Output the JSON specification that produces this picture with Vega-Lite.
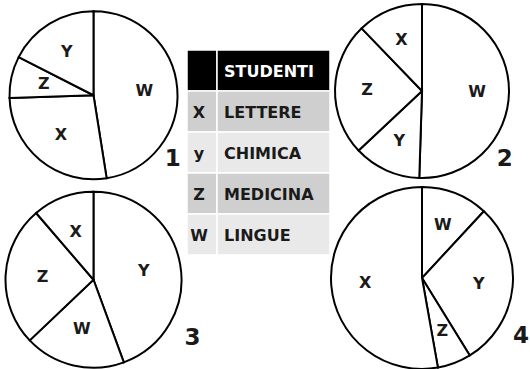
{
  "$schema": "https://vega.github.io/schema/vega-lite/v6.json",
  "padding": 0,
  "spacing": 0,
  "bounds": "flush",
  "background": "white",
  "config": {"view": {"stroke": null}, "concat": {"spacing": 0}},
  "datasets": {
    "pies": [
      {"pie": "1", "label": "W", "value": 47.5},
      {"pie": "1", "label": "X", "value": 27},
      {"pie": "1", "label": "Z", "value": 8},
      {"pie": "1", "label": "Y", "value": 17.5},
      {"pie": "2", "label": "W", "value": 50.5},
      {"pie": "2", "label": "Y", "value": 12.5},
      {"pie": "2", "label": "Z", "value": 24.8},
      {"pie": "2", "label": "X", "value": 12.2},
      {"pie": "3", "label": "Y", "value": 44.4},
      {"pie": "3", "label": "W", "value": 18.5},
      {"pie": "3", "label": "Z", "value": 25.8},
      {"pie": "3", "label": "X", "value": 11.3},
      {"pie": "4", "label": "W", "value": 11.9},
      {"pie": "4", "label": "Y", "value": 29.3},
      {"pie": "4", "label": "Z", "value": 6},
      {"pie": "4", "label": "X", "value": 52.8}
    ],
    "table": [
      {"row": "head", "name": "STUDENTI"},
      {"row": "X", "name": "LETTERE"},
      {"row": "y", "name": "CHIMICA"},
      {"row": "Z", "name": "MEDICINA"},
      {"row": "W", "name": "LINGUE"}
    ]
  },
  "hconcat": [
    {
      "width": 187, "height": 373,
      "data": {"name": "pies"},
      "transform": [
        {"filter": "datum.pie == '1' || datum.pie == '3'"},
        {"stack": "value", "groupby": ["pie"], "as": ["s0", "s1"]}
      ],
      "encoding": {
        "y": {"field": "pie", "type": "ordinal", "axis": null, "scale": {"type": "point", "domain": ["1", "3"], "padding": 0.5108}}
      },
      "layer": [
        {"transform": [{"filter": "datum.pie == '1'"}],
         "mark": {"type": "arc", "outerRadius": 84, "fill": "white", "stroke": "black", "strokeWidth": 2},
         "encoding": {"theta": {"field": "s0", "type": "quantitative", "scale": {"domain": [0, 100]}}, "theta2": {"field": "s1"}}},
        {"transform": [{"filter": "datum.pie == '3'"}],
         "mark": {"type": "arc", "outerRadius": 88, "fill": "white", "stroke": "black", "strokeWidth": 2},
         "encoding": {"theta": {"field": "s0", "type": "quantitative", "scale": {"domain": [0, 100]}}, "theta2": {"field": "s1"}}},
        {"transform": [{"filter": "datum.pie == '1'"}],
         "mark": {"type": "text", "radius": 51, "font": "DejaVu Sans", "fontWeight": "bold", "fontSize": 16, "fill": "#1a1a1a", "baseline": "middle"},
         "encoding": {"theta": {"field": "value", "type": "quantitative", "stack": true}, "order": {"field": "s0", "type": "quantitative"}, "text": {"field": "label"}}},
        {"transform": [{"filter": "datum.pie == '3'"}],
         "mark": {"type": "text", "radius": 51, "font": "DejaVu Sans", "fontWeight": "bold", "fontSize": 16, "fill": "#1a1a1a", "baseline": "middle"},
         "encoding": {"theta": {"field": "value", "type": "quantitative", "stack": true}, "order": {"field": "s0", "type": "quantitative"}, "text": {"field": "label"}}},
        {"transform": [{"filter": "datum.pie == '1' && datum.label == 'W'"}],
         "mark": {"type": "text", "radius": 102, "theta": 2.25, "font": "DejaVu Sans", "fontWeight": "bold", "fontSize": 23, "fill": "#1a1a1a", "baseline": "middle"},
         "encoding": {"text": {"field": "pie"}}},
        {"transform": [{"filter": "datum.pie == '3' && datum.label == 'W'"}],
         "mark": {"type": "text", "radius": 115, "theta": 2.105, "font": "DejaVu Sans", "fontWeight": "bold", "fontSize": 23, "fill": "#1a1a1a", "baseline": "middle"},
         "encoding": {"text": {"field": "pie"}}}
      ]
    },
    {
      "width": 30, "height": 369,
      "data": {"name": "table"},
      "encoding": {
        "y": {"field": "row", "type": "nominal", "axis": null,
              "scale": {"domain": ["head", "X", "y", "Z", "W"], "paddingInner": 0, "paddingOuter": 0, "range": [49, 254]}}
      },
      "layer": [
        {"mark": {"type": "rect", "stroke": "white", "strokeWidth": 1.5},
         "encoding": {"color": {"field": "row", "type": "nominal", "legend": null,
                                "scale": {"domain": ["head", "X", "y", "Z", "W"], "range": ["#000000", "#cfcfcf", "#e9e9e9", "#cfcfcf", "#e9e9e9"]}}}},
        {"transform": [{"filter": "datum.row != 'head'"}],
         "mark": {"type": "text", "font": "DejaVu Sans", "fontWeight": "bold", "fontSize": 16, "fill": "#1a1a1a", "baseline": "middle", "dx": -3, "dy": 1},
         "encoding": {"text": {"field": "row"}}}
      ]
    },
    {
      "width": 113, "height": 369,
      "data": {"name": "table"},
      "encoding": {
        "y": {"field": "row", "type": "nominal", "axis": null,
              "scale": {"domain": ["head", "X", "y", "Z", "W"], "paddingInner": 0, "paddingOuter": 0, "range": [49, 254]}}
      },
      "layer": [
        {"mark": {"type": "rect", "stroke": "white", "strokeWidth": 1.5},
         "encoding": {"color": {"field": "row", "type": "nominal", "legend": null,
                                "scale": {"domain": ["head", "X", "y", "Z", "W"], "range": ["#000000", "#cfcfcf", "#e9e9e9", "#cfcfcf", "#e9e9e9"]}}}},
        {"mark": {"type": "text", "font": "DejaVu Sans", "fontWeight": "bold", "fontSize": 16, "baseline": "middle", "align": "left", "dx": -49.5, "dy": 1},
         "encoding": {"text": {"field": "name"},
                      "color": {"condition": {"test": "datum.row == 'head'", "value": "white"}, "value": "#1a1a1a"}}}
      ]
    },
    {
      "width": 184, "height": 367,
      "data": {"name": "pies"},
      "transform": [
        {"filter": "datum.pie == '2' || datum.pie == '4'"},
        {"stack": "value", "groupby": ["pie"], "as": ["s0", "s1"]}
      ],
      "encoding": {
        "y": {"field": "pie", "type": "ordinal", "axis": null, "scale": {"type": "point", "domain": ["2", "4"], "padding": 0.4813}}
      },
      "layer": [
        {"transform": [{"filter": "datum.pie == '2'"}],
         "mark": {"type": "arc", "outerRadius": 87, "fill": "white", "stroke": "black", "strokeWidth": 2},
         "encoding": {"theta": {"field": "s0", "type": "quantitative", "scale": {"domain": [0, 100]}}, "theta2": {"field": "s1"}}},
        {"transform": [{"filter": "datum.pie == '4'"}],
         "mark": {"type": "arc", "outerRadius": 91, "fill": "white", "stroke": "black", "strokeWidth": 2},
         "encoding": {"theta": {"field": "s0", "type": "quantitative", "scale": {"domain": [0, 100]}}, "theta2": {"field": "s1"}}},
        {"transform": [{"filter": "datum.pie == '2'"}],
         "mark": {"type": "text", "radius": 55, "font": "DejaVu Sans", "fontWeight": "bold", "fontSize": 16, "fill": "#1a1a1a", "baseline": "middle"},
         "encoding": {"theta": {"field": "value", "type": "quantitative", "stack": true}, "order": {"field": "s0", "type": "quantitative"}, "text": {"field": "label"}}},
        {"transform": [{"filter": "datum.pie == '4'"}],
         "mark": {"type": "text", "radius": 57, "font": "DejaVu Sans", "fontWeight": "bold", "fontSize": 16, "fill": "#1a1a1a", "baseline": "middle"},
         "encoding": {"theta": {"field": "value", "type": "quantitative", "stack": true}, "order": {"field": "s0", "type": "quantitative"}, "text": {"field": "label"}}},
        {"transform": [{"filter": "datum.pie == '2' && datum.label == 'W'"}],
         "mark": {"type": "text", "radius": 107, "theta": 2.257, "font": "DejaVu Sans", "fontWeight": "bold", "fontSize": 23, "fill": "#1a1a1a", "baseline": "middle"},
         "encoding": {"text": {"field": "pie"}}},
        {"transform": [{"filter": "datum.pie == '4' && datum.label == 'W'"}],
         "mark": {"type": "text", "radius": 114.7, "theta": 2.101, "font": "DejaVu Sans", "fontWeight": "bold", "fontSize": 23, "fill": "#1a1a1a", "baseline": "middle"},
         "encoding": {"text": {"field": "pie"}}}
      ]
    }
  ]
}
